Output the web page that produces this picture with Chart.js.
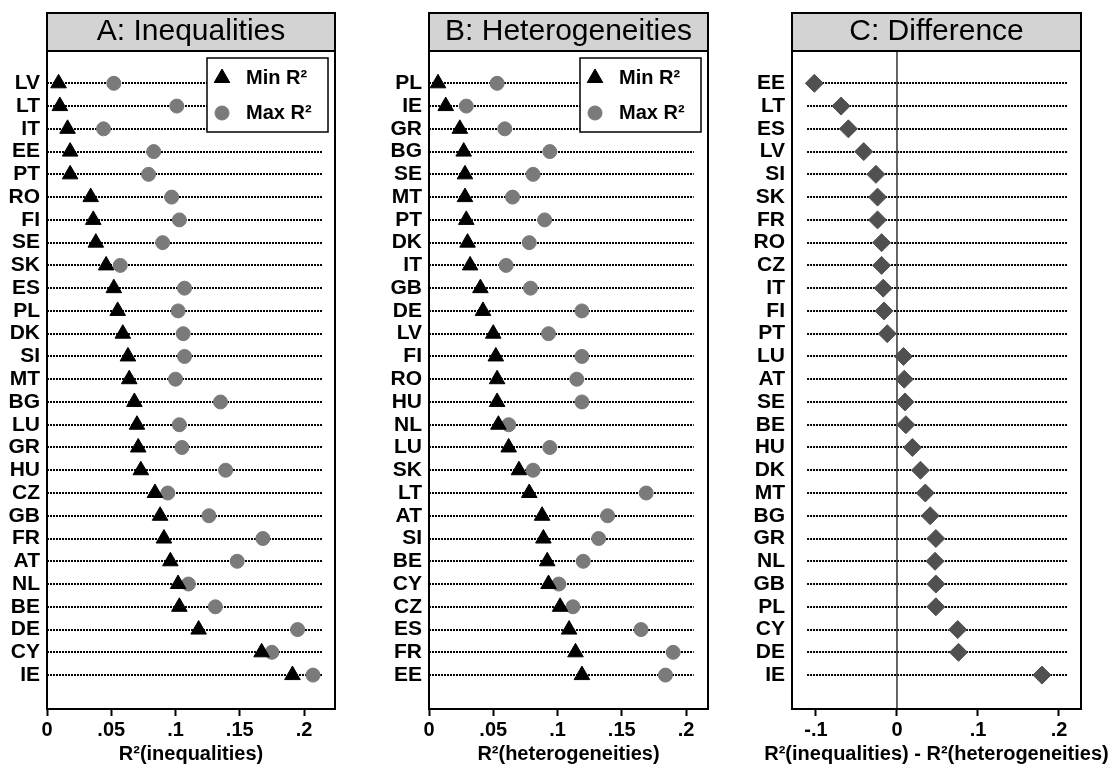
<!DOCTYPE html>
<html>
<head>
<meta charset="utf-8">
<title>R² inequalities vs heterogeneities</title>
<script src="https://cdn.jsdelivr.net/npm/chart.js@4.4.1/dist/chart.umd.min.js"></script>
<style>
  body { margin: 0; background: #fff; }
  canvas.panel { position: absolute; top: 0; }
</style>
</head>
<body>
<canvas id="chartA" class="panel" width="380" height="767" style="left:0px"></canvas>
<canvas id="chartB" class="panel" width="360" height="767" style="left:380px"></canvas>
<canvas id="chartC" class="panel" width="380" height="767" style="left:740px"></canvas>
<script>
// Panel A: R² of inequalities, sorted by the minimum
const ineqCountries = ["LV", "LT", "IT", "EE", "PT", "RO", "FI", "SE", "SK", "ES", "PL", "DK", "SI", "MT",
  "BG", "LU", "GR", "HU", "CZ", "GB", "FR", "AT", "NL", "BE", "DE", "CY", "IE"];
const ineqMin = [0.009, 0.010, 0.016, 0.018, 0.018, 0.034, 0.036, 0.038, 0.046, 0.052, 0.055, 0.059, 0.063, 0.064,
  0.068, 0.070, 0.071, 0.073, 0.084, 0.088, 0.091, 0.096, 0.102, 0.103, 0.118, 0.167, 0.191];
const ineqMax = [0.052, 0.101, 0.044, 0.083, 0.079, 0.097, 0.103, 0.090, 0.057, 0.107, 0.102, 0.106, 0.107, 0.100,
  0.135, 0.103, 0.105, 0.139, 0.094, 0.126, 0.168, 0.148, 0.110, 0.131, 0.195, 0.175, 0.207];

// Panel B: R² of heterogeneities, sorted by the minimum
const hetCountries = ["PL", "IE", "GR", "BG", "SE", "MT", "PT", "DK", "IT", "GB", "DE", "LV", "FI", "RO",
  "HU", "NL", "LU", "SK", "LT", "AT", "SI", "BE", "CY", "CZ", "ES", "FR", "EE"];
const hetMin = [0.007, 0.013, 0.024, 0.027, 0.028, 0.028, 0.029, 0.030, 0.032, 0.040, 0.042, 0.050, 0.052, 0.053,
  0.053, 0.054, 0.062, 0.070, 0.078, 0.088, 0.089, 0.092, 0.093, 0.102, 0.109, 0.114, 0.119];
const hetMax = [0.053, 0.029, 0.059, 0.094, 0.081, 0.065, 0.090, 0.078, 0.060, 0.079, 0.119, 0.093, 0.119, 0.115,
  0.119, 0.062, 0.094, 0.081, 0.169, 0.139, 0.132, 0.120, 0.101, 0.112, 0.165, 0.190, 0.184];

// Panel C: difference of the two
const diffCountries = ["EE", "LT", "ES", "LV", "SI", "SK", "FR", "RO", "CZ", "IT", "FI", "PT", "LU", "AT",
  "SE", "BE", "HU", "DK", "MT", "BG", "GR", "NL", "GB", "PL", "CY", "DE", "IE"];
const diffValues = [-0.102, -0.069, -0.060, -0.041, -0.026, -0.024, -0.024, -0.019, -0.019, -0.017, -0.016, -0.012, 0.008, 0.009,
  0.010, 0.011, 0.019, 0.029, 0.035, 0.041, 0.048, 0.047, 0.048, 0.048, 0.075, 0.076, 0.179];

const ticksAB = [0, 0.05, 0.1, 0.15, 0.2];
const ticksC = [-0.1, 0, 0.1, 0.2];

const FONT = "'Liberation Sans', Arial, sans-serif";
const MAX_GREY = "#7a7a7a";
const DIFF_GREY = "#505050";

function stataNumber(value) {
  if (value === 0) return "0";
  return String(value).replace("0.", ".");
}

function toPoints(values) {
  return values.map((value, index) => ({ x: value, y: index + 1 }));
}

const panelDecor = {
  id: "panelDecor",
  beforeDatasetsDraw(chart, args, opts) {
    const { ctx, chartArea: area, scales } = chart;
    ctx.save();
    ctx.strokeStyle = "#000";
    ctx.lineWidth = 2;
    ctx.setLineDash([2, 1]);
    scales.y.ticks.forEach((tick) => {
      // snap to whole pixels so the dotted guide stays dark
      const py = Math.round(scales.y.getPixelForValue(tick.value));
      ctx.beginPath();
      ctx.moveTo(scales.x.getPixelForValue(opts.guideFrom), py);
      ctx.lineTo(scales.x.getPixelForValue(opts.guideTo), py);
      ctx.stroke();
    });
    ctx.setLineDash([]);
    if (opts.zeroLine) {
      const px = scales.x.getPixelForValue(0);
      ctx.strokeStyle = "#333";
      ctx.lineWidth = 1.5;
      ctx.beginPath();
      ctx.moveTo(px, area.top);
      ctx.lineTo(px, area.bottom);
      ctx.stroke();
    }
    ctx.strokeStyle = "#000";
    ctx.lineWidth = 2;
    ctx.strokeRect(area.left, area.top, area.right - area.left, area.bottom - area.top);
    ctx.restore();
  },
  afterDraw(chart, args, opts) {
    const { ctx, chartArea: area } = chart;
    const midX = (area.left + area.right) / 2;
    ctx.save();
    // grey title strip
    ctx.fillStyle = "#d3d3d3";
    ctx.fillRect(area.left, 13, area.right - area.left, area.top - 13);
    ctx.strokeStyle = "#000";
    ctx.lineWidth = 2;
    ctx.strokeRect(area.left, 13, area.right - area.left, area.top - 13);
    ctx.fillStyle = "#000";
    ctx.font = "30px " + FONT;
    ctx.textAlign = "center";
    ctx.textBaseline = "alphabetic";
    ctx.fillText(opts.title, midX, 40);

    // axis title, drawn here so it is not squeezed to the plot width
    ctx.font = "bold 20px " + FONT;
    ctx.textBaseline = "middle";
    ctx.fillText(opts.xTitle, midX, 754);

    if (opts.legend) {
      const boxW = 121;
      const boxH = 74;
      const left = area.right - 7 - boxW;
      const top = area.top + 7;
      ctx.fillStyle = "#fff";
      ctx.fillRect(left, top, boxW, boxH);
      ctx.strokeStyle = "#000";
      ctx.lineWidth = 1.5;
      ctx.strokeRect(left, top, boxW, boxH);
      const items = [
        { text: "Min R²", style: "triangle", radius: 9, color: "#000", dy: 20 },
        { text: "Max R²", style: "circle", radius: 7, color: MAX_GREY, dy: 55 }
      ];
      items.forEach((item) => {
        ctx.fillStyle = item.color;
        ctx.strokeStyle = item.color;
        ctx.lineWidth = 1;
        Chart.helpers.drawPoint(ctx, { pointStyle: item.style, radius: item.radius, rotation: 0, borderWidth: 1 },
          left + 15, top + item.dy);
        ctx.fillStyle = "#000";
        ctx.font = "bold 20px " + FONT;
        ctx.textAlign = "left";
        ctx.textBaseline = "middle";
        ctx.fillText(item.text, left + 39, top + item.dy);
      });
    }
    ctx.restore();
  }
};

function makePanel(canvasId, cfg) {
  const labelFont = { family: FONT, size: 21, weight: "bold" };
  const tickFont = { family: FONT, size: 20, weight: "bold" };
  return new Chart(document.getElementById(canvasId), {
    type: "scatter",
    data: { datasets: cfg.datasets },
    plugins: [panelDecor],
    options: {
      responsive: false,
      animation: false,
      events: [],
      layout: { padding: { top: 51, right: cfg.padRight, left: 0, bottom: 0 } },
      plugins: {
        legend: { display: false },
        tooltip: { enabled: false },
        panelDecor: cfg.decor
      },
      scales: {
        x: {
          type: "linear",
          min: cfg.xMin,
          max: cfg.xMax,
          afterBuildTicks: (scale) => { scale.ticks = cfg.xTicks.map((v) => ({ value: v })); },
          afterFit: (scale) => { scale.height = 58; },
          grid: { drawOnChartArea: false, drawTicks: true, tickLength: 7, tickColor: "#000", tickWidth: 2 },
          border: { display: true, color: "#000", width: 2 },
          ticks: { color: "#000", font: tickFont, padding: 2, autoSkip: false, maxRotation: 0, callback: stataNumber }
        },
        y: {
          type: "linear",
          reverse: true,
          min: -0.42,
          max: 28.49,
          afterBuildTicks: (scale) => { scale.ticks = cfg.labels.map((_, i) => ({ value: i + 1 })); },
          afterFit: (scale) => { scale.width = cfg.yWidth; },
          grid: { display: false, drawTicks: false },
          border: { display: false },
          ticks: { color: "#000", font: labelFont, padding: 7, autoSkip: false, callback: (v) => cfg.labels[v - 1] ?? "" }
        }
      }
    }
  });
}

makePanel("chartA", {
  labels: ineqCountries,
  datasets: [
    { label: "Min R²", data: toPoints(ineqMin), pointStyle: "triangle", pointRadius: 9, backgroundColor: "#000", borderColor: "#000", borderWidth: 1 },
    { label: "Max R²", data: toPoints(ineqMax), pointStyle: "circle", pointRadius: 7, backgroundColor: MAX_GREY, borderColor: MAX_GREY, borderWidth: 1 }
  ],
  xMin: 0, xMax: 0.2241, xTicks: ticksAB,
  yWidth: 47, padRight: 45,
  decor: { title: "A: Inequalities", xTitle: "R²(inequalities)", guideFrom: 0, guideTo: 0.214, legend: true }
});

makePanel("chartB", {
  labels: hetCountries,
  datasets: [
    { label: "Min R²", data: toPoints(hetMin), pointStyle: "triangle", pointRadius: 9, backgroundColor: "#000", borderColor: "#000", borderWidth: 1 },
    { label: "Max R²", data: toPoints(hetMax), pointStyle: "circle", pointRadius: 7, backgroundColor: MAX_GREY, borderColor: MAX_GREY, borderWidth: 1 }
  ],
  xMin: 0, xMax: 0.2171, xTicks: ticksAB,
  yWidth: 49, padRight: 32,
  decor: { title: "B: Heterogeneities", xTitle: "R²(heterogeneities)", guideFrom: 0, guideTo: 0.206, legend: true }
});

makePanel("chartC", {
  labels: diffCountries,
  datasets: [
    { label: "Difference", data: toPoints(diffValues), pointStyle: "rectRot", pointRadius: 9, backgroundColor: DIFF_GREY, borderColor: DIFF_GREY, borderWidth: 1 }
  ],
  xMin: -0.1296, xMax: 0.2272, xTicks: ticksC,
  yWidth: 52, padRight: 39,
  decor: { title: "C: Difference", xTitle: "R²(inequalities) - R²(heterogeneities)", guideFrom: -0.111, guideTo: 0.21, zeroLine: true }
});
</script>
</body>
</html>
